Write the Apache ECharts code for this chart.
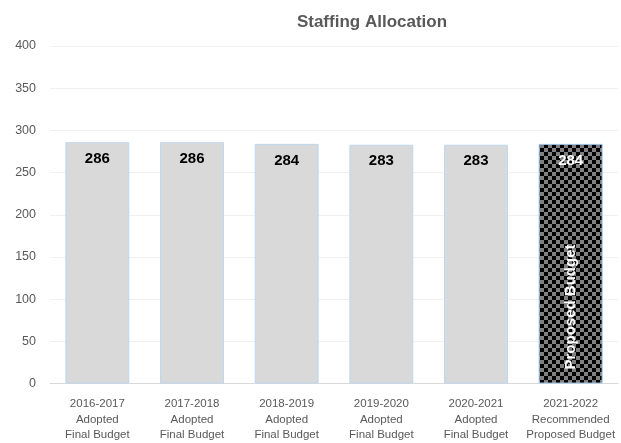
<!DOCTYPE html>
<html>
<head>
<meta charset="utf-8">
<script src="https://cdn.jsdelivr.net/npm/echarts@6/dist/echarts.min.js"></script>
<style>
  html, body { margin: 0; padding: 0; background: #fff; }
  #chart { width: 621px; height: 443px; }
</style>
</head>
<body>
<div id="chart"></div>
<script>
// Staffing positions by budget year
const categories = [
  '2016-2017\nAdopted\nFinal Budget',
  '2017-2018\nAdopted\nFinal Budget',
  '2018-2019\nAdopted\nFinal Budget',
  '2019-2020\nAdopted\nFinal Budget',
  '2020-2021\nAdopted\nFinal Budget',
  '2021-2022\nRecommended\nProposed Budget'
];
const staffing = [286, 286, 284, 283, 283, 284];
const proposedIndex = 5;
const proposedNote = 'Proposed Budget';
const yTicks = [0, 50, 100, 150, 200, 250, 300, 350, 400];

// Checkerboard fill for the proposed year
function checkerPattern(cell) {
  const c = document.createElement('canvas');
  c.width = cell * 2;
  c.height = cell * 2;
  const ctx = c.getContext('2d');
  ctx.fillStyle = '#808080';
  ctx.fillRect(0, 0, cell * 2, cell * 2);
  ctx.fillStyle = '#000000';
  ctx.fillRect(0, 0, cell, cell);
  ctx.fillRect(cell, cell, cell, cell);
  return c;
}
const checker = checkerPattern(4);

const font = '"Liberation Sans", Arial, sans-serif';

const barData = staffing.map((v, i) => {
  if (i === proposedIndex) {
    return {
      value: v,
      itemStyle: { color: { image: checker, repeat: 'repeat' }, borderColor: '#9dc3e6', borderWidth: 1 },
      label: { color: '#ffffff' }
    };
  }
  return v;
});

const noteData = staffing.map((v, i) => (i === proposedIndex ? v : null));

const chart = echarts.init(document.getElementById('chart'), null, { renderer: 'canvas' });
chart.setOption({
  animation: false,
  title: {
    text: 'Staffing Allocation',
    left: 367,
    top: 9,
    textAlign: 'center',
    textStyle: { fontFamily: font, fontSize: 17, fontWeight: 'bold', color: '#595959' }
  },
  grid: { left: 50, right: 3, top: 46, bottom: 56 },
  xAxis: {
    type: 'category',
    data: categories,
    axisLine: { lineStyle: { color: '#d9d9d9', width: 1 } },
    axisTick: { show: false },
    axisLabel: {
      interval: 0,
      margin: 13,
      fontFamily: font,
      fontSize: 11.5,
      lineHeight: 15.5,
      color: '#595959'
    }
  },
  yAxis: {
    type: 'value',
    min: yTicks[0],
    max: yTicks[yTicks.length - 1],
    interval: yTicks[1] - yTicks[0],
    axisLine: { show: false },
    axisTick: { show: false },
    splitLine: { lineStyle: { color: '#f0f0f0', width: 1 } },
    axisLabel: { margin: 14, fontFamily: font, fontSize: 12.5, color: '#595959' }
  },
  series: [
    {
      type: 'bar',
      data: barData,
      barWidth: '67.5%',
      itemStyle: { color: '#d9d9d9', borderColor: '#bdd7ee', borderWidth: 1 },
      label: {
        show: true,
        position: 'insideTop',
        distance: 9,
        fontFamily: font,
        fontSize: 15,
        fontWeight: 'bold',
        color: '#000000'
      },
      z: 2
    },
    {
      type: 'bar',
      data: noteData,
      barWidth: '67.5%',
      barGap: '-100%',
      itemStyle: { color: 'rgba(0,0,0,0)' },
      label: {
        show: true,
        position: 'insideBottom',
        rotate: 90,
        align: 'left',
        verticalAlign: 'middle',
        distance: 14,
        formatter: proposedNote,
        fontFamily: font,
        fontSize: 15,
        fontWeight: 'bold',
        color: '#ffffff'
      },
      silent: true,
      z: 3
    }
  ]
});
</script>
</body>
</html>
